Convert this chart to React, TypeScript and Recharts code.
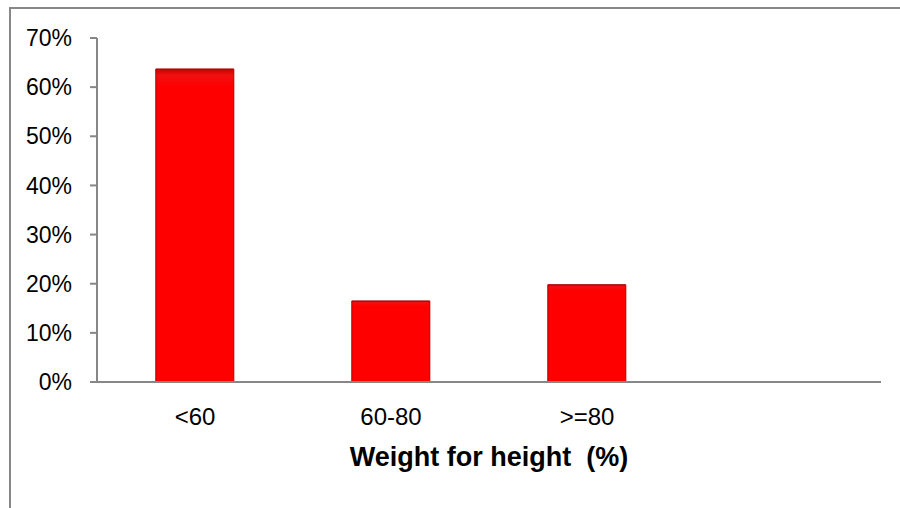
import React from 'react';
import { BarChart, Bar, XAxis, YAxis } from 'recharts';

// Weight for height groups and share of children in each group (%)
const categories = ['<60', '60-80', '>=80', ''];
const shares = [63.7, 16.5, 19.8, null];
const yTicks = [0, 10, 20, 30, 40, 50, 60, 70];
// non-breaking spaces so the double gap before (%) survives word splitting
const xTitle = 'Weight for height\u00A0\u00A0(%)';

const chartData = categories.map((name, i) => ({ name, share: shares[i] }));

const FONT = '"Liberation Sans", Arial, sans-serif';
const AXIS_GREY = '#878787';

export default function App() {
  return (
    <div style={{ position: 'absolute', left: 0, top: 0, width: 900, height: 508, background: '#fff', fontFamily: FONT }}>
      {/* frame: top and left edge only */}
      <div
        style={{
          position: 'absolute',
          left: 9,
          top: 7,
          width: 891,
          height: 501,
          borderTop: `2px solid ${AXIS_GREY}`,
          borderLeft: `2px solid ${AXIS_GREY}`,
          boxSizing: 'border-box',
        }}
      />
      <div style={{ position: 'absolute', left: 0, top: 0 }}>
        <BarChart
          width={900}
          height={508}
          data={chartData}
          margin={{ top: 38, right: 19, left: 0, bottom: 26 }}
          barCategoryGap="30%"
        >
          <defs>
            <linearGradient id="barShade" x1="0" y1="0" x2="0" y2="1">
              <stop offset="0%" stopColor="#c80000" />
              <stop offset="2%" stopColor="#f01010" />
              <stop offset="6%" stopColor="#ff0000" />
              <stop offset="100%" stopColor="#ff0000" />
            </linearGradient>
          </defs>
          <XAxis
            dataKey="name"
            height={100}
            axisLine={{ stroke: AXIS_GREY, strokeWidth: 2 }}
            tickLine={false}
            tickSize={0}
            tickMargin={26}
            tick={{ fill: '#000', fontSize: 24, fontFamily: FONT }}
            interval={0}
            label={{
              value: xTitle,
              position: 'insideBottom',
              offset: 16,
              style: { fill: '#000', fontSize: 27, fontWeight: 'bold', fontFamily: FONT },
            }}
          />
          <YAxis
            width={97}
            domain={[0, 70]}
            ticks={yTicks}
            interval={0}
            axisLine={{ stroke: AXIS_GREY, strokeWidth: 2 }}
            tickLine={{ stroke: AXIS_GREY, strokeWidth: 2 }}
            tickSize={7}
            tickMargin={18}
            tickFormatter={(v) => `${v}%`}
            tick={{ fill: '#000', fontSize: 23, fontFamily: FONT }}
          />
          <Bar
            dataKey="share"
            fill="url(#barShade)"
            stroke="#a80000"
            strokeWidth={1}
            isAnimationActive={false}
          />
        </BarChart>
      </div>
    </div>
  );
}
